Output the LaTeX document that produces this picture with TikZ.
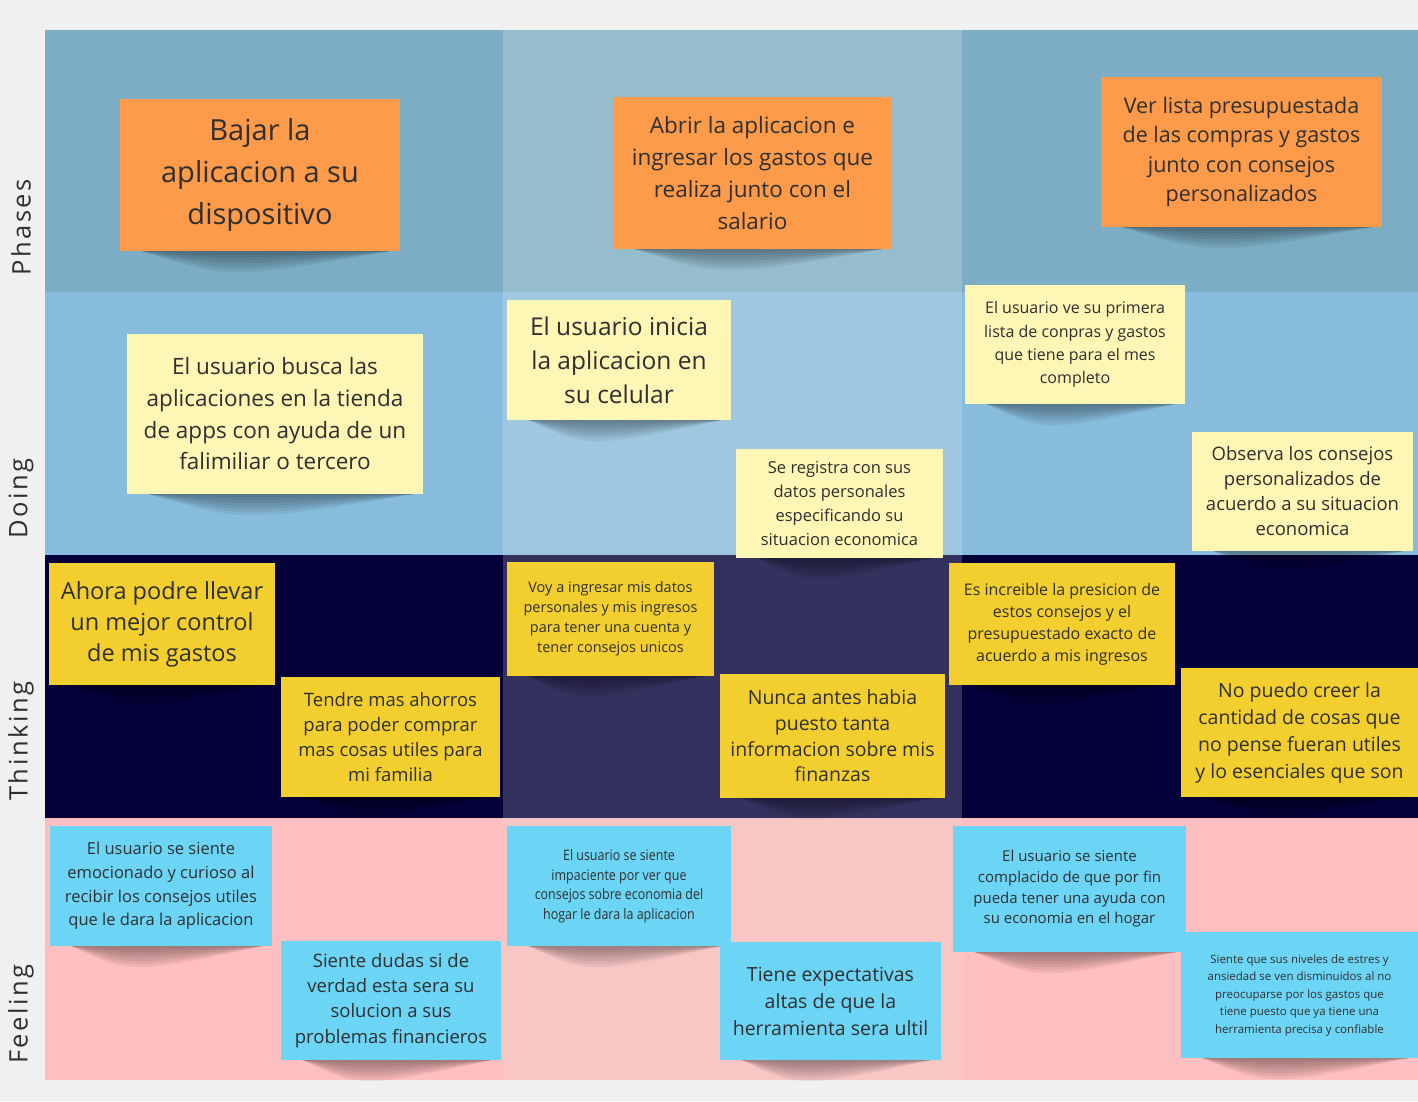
\documentclass[tikz,border=0pt]{standalone}
\usepackage{fontspec}
\setmainfont{Open Sans}
\newfontfamily\narrowfont[FakeStretch=0.86]{Open Sans}
\newfontfamily\labelfont[LetterSpace=10]{Open Sans}
\usepackage{tikz}
\usetikzlibrary{calc}
\definecolor{bgcol}{HTML}{F0F0F0}
\definecolor{ink}{HTML}{2F2F2F}
\definecolor{phout}{HTML}{7BADC4}
\definecolor{phmid}{HTML}{95BDCE}
\definecolor{doout}{HTML}{88BCDC}
\definecolor{domid}{HTML}{9FC8E0}
\definecolor{thout}{HTML}{05003A}
\definecolor{thmid}{HTML}{35315F}
\definecolor{feout}{HTML}{FFBEBF}
\definecolor{femid}{HTML}{F9C6C6}
\definecolor{orangenote}{HTML}{FD9B4A}
\definecolor{palenote}{HTML}{FEF6B4}
\definecolor{yellownote}{HTML}{F2CF2F}
\definecolor{bluenote}{HTML}{6CD5F5}
\def\fs#1#2{\fontsize{#1}{#2}\selectfont}
\tikzstyle{note}=[inner sep=0,align=center,text=ink]
\tikzstyle{phasenote}=[note,fill=orangenote]
\tikzstyle{doingnote}=[note,fill=palenote]
\tikzstyle{thinknote}=[note,fill=yellownote]
\tikzstyle{feelnote}=[note,fill=bluenote]
\tikzstyle{rowlabel}=[rotate=90,anchor=west,inner sep=0,text=ink,font=\labelfont\fs{25.5}{30}]
\def\noteshadow#1{\foreach \d in {4,8,...,28}{
  \fill[black,opacity=0.06] ($(#1.south west)+(22,0)$) .. controls ($(#1.south)+(-30,\d)$) .. ($(#1.south east)+(-10,0)$) -- cycle;}}

\begin{document}
\begin{tikzpicture}[x=1pt,y=-1pt]
  % BACKGROUND & GRID
  \fill[bgcol] (0,0) rectangle (1418,1101);
  \useasboundingbox (0,0) rectangle (1418,1101);
  \foreach \t/\b/\co/\cm in {30/292/phout/phmid,292/555/doout/domid,555/818/thout/thmid,818/1080/feout/femid}{
    \fill[\co] (45,\t) rectangle (1418,\b);
    \fill[\cm] (503,\t) rectangle (962,\b);
  }

  % ROW LABELS
  \node[rowlabel] (lphases) at (21,276) {Phases};
  \node[rowlabel] (ldoing) at (21,539) {Doing};
  \node[rowlabel] (lthinking) at (21,801) {Thinking};
  \node[rowlabel] (lfeeling) at (21,1064) {Feeling};

  % PHASES
  \node[phasenote,minimum width=280,minimum height=152,font=\fs{29}{42}] (ph1) at (260,175)
    {Bajar la\\aplicacion a su\\dispositivo};
  \node[phasenote,minimum width=279,minimum height=152,font=\fs{22.5}{32}] (ph2) at (752.5,173)
    {Abrir la aplicacion e\\ingresar los gastos que\\realiza junto con el\\salario};
  \node[phasenote,minimum width=281,minimum height=150,font=\fs{21.5}{29.5}] (ph3) at (1241.5,152)
    {Ver lista presupuestada\\de las compras y gastos\\junto con consejos\\personalizados};

  % DOING
  \node[doingnote,minimum width=296,minimum height=160,font=\fs{22.5}{31.7}] (do1) at (275,414)
    {El usuario busca las\\aplicaciones en la tienda\\de apps con ayuda de un\\falimiliar o tercero};
  \node[doingnote,minimum width=224,minimum height=120,font=\fs{24.5}{34}] (do2) at (619,360)
    {El usuario inicia\\la aplicacion en\\su celular};
  \node[doingnote,minimum width=207,minimum height=109,font=\fs{16.5}{23.7}] (do3) at (839.5,503.5)
    {Se registra con sus\\datos personales\\especificando su\\situacion economica};
  \node[doingnote,minimum width=220,minimum height=119,font=\fs{16}{23.3}] (do4) at (1075,344.5)
    {El usuario ve su primera\\lista de conpras y gastos\\que tiene para el mes\\completo};
  \node[doingnote,minimum width=221,minimum height=119,font=\fs{18.5}{25}] (do5) at (1302.5,491.5)
    {Observa los consejos\\personalizados de\\acuerdo a su situacion\\economica};

  % THINKING
  \node[thinknote,minimum width=226,minimum height=122,font=\fs{23.5}{31}] (th1) at (162,624)
    {Ahora podre llevar\\un mejor control\\de mis gastos};
  \node[thinknote,minimum width=219,minimum height=120,font=\fs{18.5}{25.3}] (th2) at (390.5,737)
    {Tendre mas ahorros\\para poder comprar\\mas cosas utiles para\\mi familia};
  \node[thinknote,minimum width=207,minimum height=114,font=\fs{14.5}{20}] (th3) at (610.5,619)
    {Voy a ingresar mis datos\\personales y mis ingresos\\para tener una cuenta y\\tener consejos unicos};
  \node[thinknote,minimum width=225,minimum height=124,font=\fs{19.5}{25.7}] (th4) at (832.5,736)
    {Nunca antes habia\\puesto tanta\\informacion sobre mis\\finanzas};
  \node[thinknote,minimum width=226,minimum height=122,font=\fs{16}{22}] (th5) at (1062,624)
    {Es increible la presicion de\\estos consejos y el\\presupuestado exacto de\\acuerdo a mis ingresos};
  \node[thinknote,minimum width=237,minimum height=129,font=\fs{19.5}{27}] (th6) at (1299.5,732.5)
    {No puedo creer la\\cantidad de cosas que\\no pense fueran utiles\\y lo esenciales que son};

  % FEELING
  \node[feelnote,minimum width=222,minimum height=120,font=\fs{16.5}{23.7}] (fe1) at (161,886)
    {El usuario se siente\\emocionado y curioso al\\recibir los consejos utiles\\que le dara la aplicacion};
  \node[feelnote,minimum width=220,minimum height=119,font=\fs{18.5}{25.3}] (fe2) at (391,1000.5)
    {Siente dudas si de\\verdad esta sera su\\solucion a sus\\problemas financieros};
  \node[feelnote,minimum width=224,minimum height=120,font=\narrowfont\fs{14.5}{19.5}] (fe3) at (619,886)
    {El usuario se siente\\impaciente por ver que\\consejos sobre economia del\\hogar le dara la aplicacion};
  \node[feelnote,minimum width=221,minimum height=118,font=\fs{19.5}{27}] (fe4) at (830.5,1001)
    {Tiene expectativas\\altas de que la\\herramienta sera ultil};
  \node[feelnote,minimum width=233,minimum height=126,font=\fs{15}{20.7}] (fe5) at (1069.5,889)
    {El usuario se siente\\complacido de que por fin\\pueda tener una ayuda con\\su economia en el hogar};
  \node[feelnote,minimum width=237,minimum height=126,font=\fs{11.5}{17.5}] (fe6) at (1299.5,995)
    {Siente que sus niveles de estres y\\ansiedad se ven disminuidos al no\\preocuparse por los gastos que\\tiene puesto que ya tiene una\\herramienta precisa y confiable};

  % SHADOWS
  \foreach \n in {ph1,ph2,ph3,do1,do2,do3,do4,do5,th1,th2,th3,th4,th5,th6,fe1,fe2,fe3,fe4,fe5,fe6}
    {\noteshadow{\n}}
\end{tikzpicture}
\end{document}
